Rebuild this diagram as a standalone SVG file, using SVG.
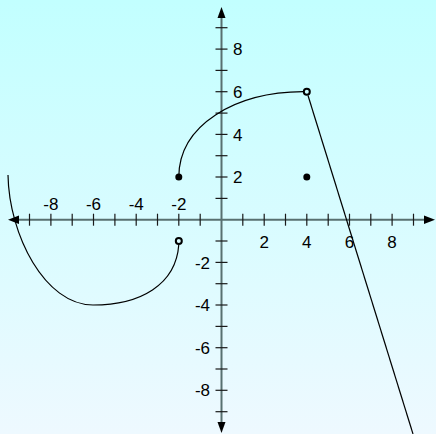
<svg xmlns="http://www.w3.org/2000/svg" width="436" height="434" viewBox="0 0 436 434">
<defs>
<linearGradient id="bg" x1="0" y1="0" x2="0" y2="1">
<stop offset="0" stop-color="#C2FFFF"/>
<stop offset="1" stop-color="#EEF9FF"/>
</linearGradient>
<style>
.axis{stroke:#587070;stroke-width:2;fill:none}
.tick{stroke:#1a1a1a;stroke-width:1.2}
.lbl{font-family:"Liberation Sans",Arial,sans-serif;font-size:17px;fill:#000}
.curve{stroke:#000;stroke-width:1.2;fill:none}
.open{fill:none;stroke:#000;stroke-width:2}
.arrow{fill:#000}
</style>
</defs>
<rect width="436" height="434" fill="url(#bg)"/>
<g id="axes">
<line class="axis" x1="14" y1="219.7" x2="429" y2="219.7"/>
<line class="axis" x1="221.5" y1="14" x2="221.5" y2="426"/>
<polygon class="arrow" points="8,219.7 19,215.5 19,224"/>
<polygon class="arrow" points="435,219.7 424,215.5 424,224"/>
<polygon class="arrow" points="221.5,7 217.5,18 225.5,18"/>
<polygon class="arrow" points="221.5,433 217.5,422 225.5,422"/>
</g>
<g id="xticks" class="tick">
<line x1="29.5" y1="213.7" x2="29.5" y2="225.7"/>
<line x1="50.9" y1="213.7" x2="50.9" y2="225.7"/>
<line x1="72.2" y1="213.7" x2="72.2" y2="225.7"/>
<line x1="93.5" y1="213.7" x2="93.5" y2="225.7"/>
<line x1="114.9" y1="213.7" x2="114.9" y2="225.7"/>
<line x1="136.2" y1="213.7" x2="136.2" y2="225.7"/>
<line x1="157.5" y1="213.7" x2="157.5" y2="225.7"/>
<line x1="178.8" y1="213.7" x2="178.8" y2="225.7"/>
<line x1="200.2" y1="213.7" x2="200.2" y2="225.7"/>
<line x1="242.8" y1="213.7" x2="242.8" y2="225.7"/>
<line x1="264.2" y1="213.7" x2="264.2" y2="225.7"/>
<line x1="285.5" y1="213.7" x2="285.5" y2="225.7"/>
<line x1="306.8" y1="213.7" x2="306.8" y2="225.7"/>
<line x1="328.2" y1="213.7" x2="328.2" y2="225.7"/>
<line x1="349.5" y1="213.7" x2="349.5" y2="225.7"/>
<line x1="370.8" y1="213.7" x2="370.8" y2="225.7"/>
<line x1="392.1" y1="213.7" x2="392.1" y2="225.7"/>
<line x1="413.5" y1="213.7" x2="413.5" y2="225.7"/>
</g>
<g id="yticks" class="tick">
<line x1="215.5" y1="27.7" x2="227.5" y2="27.7"/>
<line x1="215.5" y1="49.1" x2="227.5" y2="49.1"/>
<line x1="215.5" y1="70.4" x2="227.5" y2="70.4"/>
<line x1="215.5" y1="91.7" x2="227.5" y2="91.7"/>
<line x1="215.5" y1="113.1" x2="227.5" y2="113.1"/>
<line x1="215.5" y1="134.4" x2="227.5" y2="134.4"/>
<line x1="215.5" y1="155.7" x2="227.5" y2="155.7"/>
<line x1="215.5" y1="177" x2="227.5" y2="177"/>
<line x1="215.5" y1="198.4" x2="227.5" y2="198.4"/>
<line x1="215.5" y1="241" x2="227.5" y2="241"/>
<line x1="215.5" y1="262.4" x2="227.5" y2="262.4"/>
<line x1="215.5" y1="283.7" x2="227.5" y2="283.7"/>
<line x1="215.5" y1="305" x2="227.5" y2="305"/>
<line x1="215.5" y1="326.4" x2="227.5" y2="326.4"/>
<line x1="215.5" y1="347.7" x2="227.5" y2="347.7"/>
<line x1="215.5" y1="369" x2="227.5" y2="369"/>
<line x1="215.5" y1="390.3" x2="227.5" y2="390.3"/>
<line x1="215.5" y1="411.7" x2="227.5" y2="411.7"/>
</g>
<g id="xlabels" class="lbl" text-anchor="middle">
<text x="50.9" y="210">-8</text>
<text x="93.5" y="210">-6</text>
<text x="136.2" y="210">-4</text>
<text x="178.8" y="210">-2</text>
<text x="264.2" y="248">2</text>
<text x="306.8" y="248">4</text>
<text x="349.5" y="248">6</text>
<text x="392.1" y="248">8</text>
</g>
<g id="ylabels" class="lbl">
<text x="233" y="55.2">8</text>
<text x="233" y="97.8">6</text>
<text x="233" y="140.5">4</text>
<text x="233" y="183.1">2</text>
<g text-anchor="end">
<text x="210" y="268.5">-2</text>
<text x="210" y="311.1">-4</text>
<text x="210" y="353.8">-6</text>
<text x="210" y="396.4">-8</text>
</g>
</g>
<g id="graph">
<path class="curve" d="M 8 175 C 9 235, 45 305, 93 305 C 140 305, 176 285, 178.8 244.5"/>
<path class="curve" d="M 178.8 177 C 179 125, 235 92, 303.3 91.7"/>
<line class="curve" x1="308" y1="95.5" x2="413" y2="434"/>
</g>
<g id="points">
<circle cx="178.8" cy="177" r="3.5" fill="#000"/>
<circle cx="306.8" cy="177" r="3.5" fill="#000"/>
<circle class="open" cx="178.8" cy="241" r="3"/>
<circle class="open" cx="306.8" cy="91.7" r="3"/>
</g>
</svg>
